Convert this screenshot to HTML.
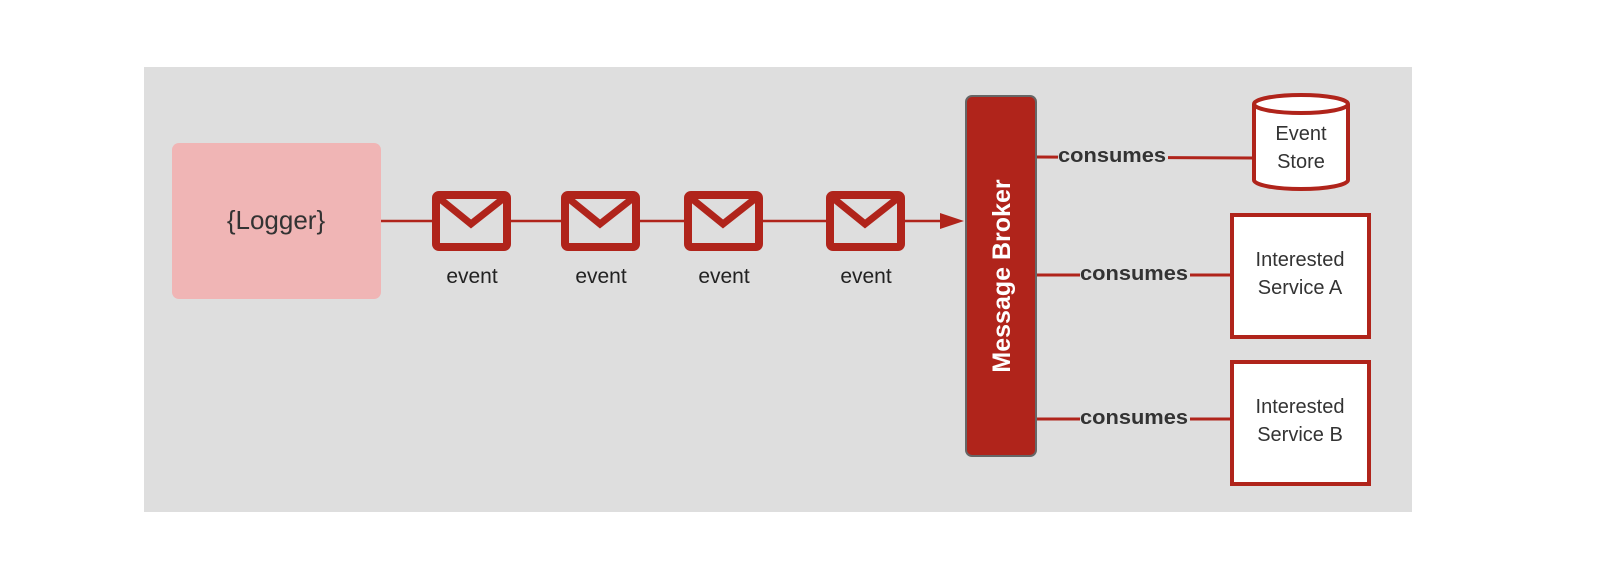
<!DOCTYPE html>
<html><head><style>
body{margin:0;background:#fff;}
svg{display:block;}
text{font-family:"Liberation Sans",Arial,sans-serif;}
</style></head><body>
<svg width="1624" height="588" viewBox="0 0 1624 588" xmlns="http://www.w3.org/2000/svg">
<rect x="144" y="67" width="1268" height="445" fill="#dedede"/>
<rect x="172" y="143" width="209" height="156" rx="7" fill="#f0b5b5"/>
<text x="276" y="229" font-size="26" text-anchor="middle" fill="#333">{Logger}</text>
<line x1="381" y1="221" x2="944" y2="221" stroke="#b0241b" stroke-width="2.5"/>
<polygon points="940,213 964,221 940,229" fill="#b0241b"/>
<g fill="#dedede" stroke="#b0241b" stroke-width="8" stroke-linejoin="round">
<rect x="436" y="195" width="71" height="52" rx="3"/>
<rect x="565" y="195" width="71" height="52" rx="3"/>
<rect x="688" y="195" width="71" height="52" rx="3"/>
<rect x="830" y="195" width="71" height="52" rx="3"/>
</g>
<g fill="none" stroke="#b0241b" stroke-width="7">
<polyline points="439,198 471,224 504,198"/>
<polyline points="568,198 600,224 633,198"/>
<polyline points="691,198 723,224 756,198"/>
<polyline points="833,198 865,224 898,198"/>
</g>
<g font-size="21" text-anchor="middle" fill="#222">
<text x="472" y="283">event</text>
<text x="601" y="283">event</text>
<text x="724" y="283">event</text>
<text x="866" y="283">event</text>
</g>
<rect x="966" y="96" width="70" height="360" rx="6" fill="#b0241b" stroke="#666" stroke-width="2"/>
<text transform="translate(1010,276) rotate(-90)" font-size="25" font-weight="bold" text-anchor="middle" fill="#fff">Message Broker</text>
<g stroke="#b0241b" stroke-width="3">
<line x1="1037" y1="157" x2="1253" y2="158"/>
<line x1="1037" y1="275" x2="1231" y2="275"/>
<line x1="1037" y1="419" x2="1231" y2="419"/>
</g>
<g font-size="20" font-weight="bold" text-anchor="middle" fill="#333">
<rect x="1058" y="145" width="110" height="22" fill="#dedede"/>
<text x="1112" y="162" textLength="108" lengthAdjust="spacingAndGlyphs">consumes</text>
<rect x="1080" y="263" width="110" height="22" fill="#dedede"/>
<text x="1134" y="280" textLength="108" lengthAdjust="spacingAndGlyphs">consumes</text>
<rect x="1080" y="407" width="110" height="22" fill="#dedede"/>
<text x="1134" y="424" textLength="108" lengthAdjust="spacingAndGlyphs">consumes</text>
</g>
<path d="M1254,104 L1254,180 A47,9 0 0 0 1348,180 L1348,104" fill="#fff" stroke="#b0241b" stroke-width="4"/>
<ellipse cx="1301" cy="104" rx="47" ry="9" fill="#fff" stroke="#b0241b" stroke-width="4"/>
<g font-size="20" text-anchor="middle" fill="#333">
<text x="1301" y="140">Event</text>
<text x="1301" y="168">Store</text>
</g>
<rect x="1232" y="215" width="137" height="122" fill="#fff" stroke="#b0241b" stroke-width="4"/>
<rect x="1232" y="362" width="137" height="122" fill="#fff" stroke="#b0241b" stroke-width="4"/>
<g font-size="20" text-anchor="middle" fill="#333">
<text x="1300" y="266">Interested</text>
<text x="1300" y="294">Service A</text>
<text x="1300" y="413">Interested</text>
<text x="1300" y="441">Service B</text>
</g>
</svg>
</body></html>
